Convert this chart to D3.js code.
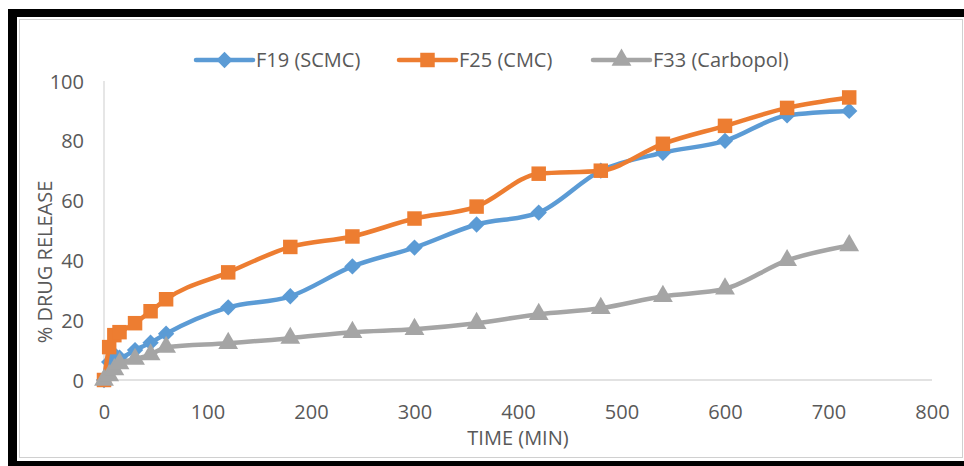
<!DOCTYPE html>
<html>
<head>
<meta charset="utf-8">
<script src="https://cdn.jsdelivr.net/npm/d3@7"></script>
<style>
  html, body { margin: 0; padding: 0; background: #fff; }
  svg { display: block; }
  text { font-family: "Open Sans", "Liberation Sans", sans-serif; fill: #595959; }
</style>
</head>
<body>
<svg id="chart" width="964" height="466"></svg>
<script>
// Sampling times (minutes)
const times = [0, 5, 10, 15, 30, 45, 60, 120, 180, 240, 300, 360, 420, 480, 540, 600, 660, 720];
// Cumulative % drug release per formulation
const f19 = [0, 6, 8.5, 7.5, 10, 12.5, 15.5, 24.3, 28, 38, 44.3, 52, 56, 70, 76, 80, 88.5, 90];
const f25 = [0, 11, 15, 16, 19, 23, 27, 36, 44.5, 48, 54, 58, 69, 70, 79, 85, 91, 94.5];
const f33 = [0, 1.5, 3.5, 5.5, 7, 8.5, 11, 12.3, 14, 16, 17, 19, 22, 24, 28, 30.5, 40, 45];
const seriesNames = ["F19 (SCMC)", "F25 (CMC)", "F33 (Carbopol)"];
const xTicks = [0, 100, 200, 300, 400, 500, 600, 700, 800];
const yTicks = [0, 20, 40, 60, 80, 100];

const colors = ["#5B9BD5", "#ED7D31", "#A5A5A5"];
const symbols = [d3.symbolDiamond2, d3.symbolSquare, d3.symbolTriangle];
const symSizes = [170, 210, 170];
const seriesVals = [f19, f25, f33];
const FONT = 20;

const svg = d3.select("#chart");

// Frame: heavy black border with an inner light panel
svg.append("rect").attr("x", 8).attr("y", 9).attr("width", 956).attr("height", 457).attr("fill", "#000");
svg.append("rect").attr("x", 17).attr("y", 17).attr("width", 947).attr("height", 444).attr("fill", "#fff");
svg.append("rect").attr("x", 19.5).attr("y", 19.5).attr("width", 943).attr("height", 438)
  .attr("fill", "#fff").attr("stroke", "#D0D0D0").attr("stroke-width", 1);

const x = d3.scaleLinear().domain([0, 800]).range([104, 932]);
const y = d3.scaleLinear().domain([0, 100]).range([380, 81]);

// Axis lines
svg.append("line").attr("x1", x(0)).attr("x2", x(0)).attr("y1", y(100)).attr("y2", y(0))
  .attr("stroke", "#D9D9D9").attr("stroke-width", 1.3);
svg.append("line").attr("x1", x(0)).attr("x2", x(800)).attr("y1", y(0)).attr("y2", y(0))
  .attr("stroke", "#D9D9D9").attr("stroke-width", 1.3);

// Tick labels
const xAxis = d3.axisBottom(x).tickValues(xTicks).tickSize(0).tickPadding(0);
const gx = svg.append("g").attr("transform", `translate(0,${y(0) + 39})`).call(xAxis);
gx.select(".domain").remove();
gx.selectAll("text").attr("font-size", FONT).attr("fill", "#595959").attr("dy", 0)
  .style("font-family", "\"Open Sans\", sans-serif");

const yAxis = d3.axisLeft(y).tickValues(yTicks).tickSize(0).tickPadding(0);
const gy = svg.append("g").attr("transform", `translate(${x(0) - 20},0)`).call(yAxis);
gy.select(".domain").remove();
gy.selectAll("text").attr("font-size", FONT).attr("fill", "#595959").attr("dy", "0.35em")
  .style("font-family", "\"Open Sans\", sans-serif");

// Axis titles
svg.append("text").attr("x", 518).attr("y", 445).attr("text-anchor", "middle")
  .attr("font-size", FONT).text("TIME (MIN)");
svg.append("text").attr("transform", "translate(52,262) rotate(-90)").attr("text-anchor", "middle")
  .attr("font-size", FONT).text("% DRUG RELEASE");

// Series
const line = d3.line().x(d => x(d[0])).y(d => y(d[1])).curve(d3.curveMonotoneX);
seriesVals.forEach((vals, i) => {
  const pts = times.map((t, j) => [t, vals[j]]);
  const g = svg.append("g");
  g.append("path").attr("d", line(pts)).attr("fill", "none")
    .attr("stroke", colors[i]).attr("stroke-width", 4.5).attr("stroke-linejoin", "round").attr("stroke-linecap", "round");
  g.selectAll("path.m").data(pts).join("path").attr("class", "m")
    .attr("transform", d => `translate(${x(d[0])},${y(d[1])})`)
    .attr("d", d3.symbol().type(symbols[i]).size(symSizes[i]))
    .attr("fill", colors[i]);
});

// Legend
const legendX = [196, 399, 593];
const legendY = 60;
seriesNames.forEach((name, i) => {
  const g = svg.append("g").attr("transform", `translate(${legendX[i]},${legendY})`);
  g.append("line").attr("x1", 0).attr("x2", 57).attr("y1", 0).attr("y2", 0)
    .attr("stroke", colors[i]).attr("stroke-width", 4.5).attr("stroke-linecap", "round");
  g.append("path").attr("transform", "translate(28.5,0)")
    .attr("d", d3.symbol().type(symbols[i]).size(symSizes[i])).attr("fill", colors[i]);
  g.append("text").attr("x", 60).attr("y", 0).attr("dy", "0.35em").attr("font-size", FONT).text(name);
});
</script>
</body>
</html>
